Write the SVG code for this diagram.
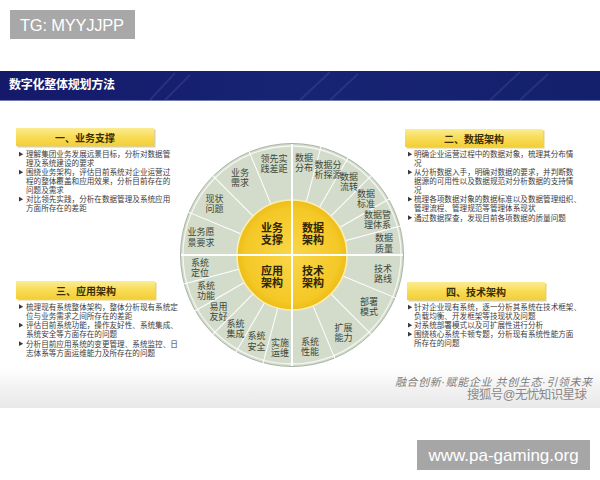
<svg xmlns="http://www.w3.org/2000/svg" xmlns:xlink="http://www.w3.org/1999/xlink" width="600" height="480" viewBox="0 0 600 480">
  <defs>
    <linearGradient id="band" x1="0" y1="0" x2="1" y2="0">
      <stop offset="0" stop-color="#15196a"/>
      <stop offset="0.5" stop-color="#172474"/>
      <stop offset="1" stop-color="#14206b"/>
    </linearGradient>
    <linearGradient id="bar" x1="0" y1="0" x2="0" y2="1">
      <stop offset="0" stop-color="#fcec93"/>
      <stop offset="0.5" stop-color="#f8dc55"/>
      <stop offset="1" stop-color="#f2cf38"/>
    </linearGradient>
    <radialGradient id="core" cx="0.5" cy="0.5" r="0.5">
      <stop offset="0" stop-color="#f9d64a"/>
      <stop offset="0.85" stop-color="#f4c826"/>
      <stop offset="1" stop-color="#eebd17"/>
    </radialGradient>
    <linearGradient id="foot" x1="0" y1="0" x2="0" y2="1">
      <stop offset="0" stop-color="#ffffff"/>
      <stop offset="0.5" stop-color="#f2f2f2"/>
      <stop offset="1" stop-color="#e9e9e9"/>
    </linearGradient>
    <polygon id="bul" points="0,-2.4 4.2,0 0,2.4" fill="#3a3a3a"/>
    <style>
      .cjk { font-family: "Liberation Sans", "Noto Sans CJK SC", sans-serif; }
      .body { font-family: "Liberation Sans", "Noto Sans CJK SC", sans-serif; font-size: 7.6px; fill: #3c3c3c; }
      .head { font-family: "Liberation Sans", "Noto Sans CJK SC", sans-serif; font-size: 10px; font-weight: bold; fill: #3a2d05; text-anchor: middle; }
      .lbl { font-family: "Liberation Sans", "Noto Sans CJK SC", sans-serif; font-size: 9px; fill: #3b4739; text-anchor: middle; }
      .core { font-family: "Liberation Sans", "Noto Sans CJK SC", sans-serif; font-size: 11px; font-weight: bold; fill: #2e2608; text-anchor: middle; }
      .div { stroke: #ffffff; stroke-width: 1; }
      .cross { stroke: #ffffff; stroke-width: 2; }
    </style>
  </defs>

  <rect width="600" height="480" fill="#ffffff"/>

  <!-- watermark top -->
  <g id="tg-badge">
    <rect x="10" y="10" width="125" height="29" fill="#a8a8a8"/>
    <text x="20" y="31" font-family="Liberation Sans, Arial, sans-serif" font-size="16.5" fill="#ffffff" textLength="104">TG: MYYJJPP</text>
  </g>

  <!-- title band -->
  <g id="title-band">
    <rect x="0" y="71" width="600" height="29" fill="url(#band)"/>
    <g stroke="#8a92c0" stroke-opacity="0.16" stroke-width="2">
      <line x1="150" y1="100" x2="175" y2="73"/>
      <line x1="165" y1="100" x2="190" y2="75"/>
      <line x1="300" y1="100" x2="330" y2="72"/>
      <line x1="330" y1="100" x2="358" y2="74"/>
      <line x1="490" y1="100" x2="520" y2="72"/>
      <line x1="520" y1="100" x2="548" y2="74"/>
    </g>
    <line x1="0" y1="100.5" x2="600" y2="100.5" stroke="#6f7ab5" stroke-width="1"/>
    <text x="9" y="89" class="cjk" font-size="12" font-weight="bold" fill="#ffffff" textLength="106">数字化整体规划方法</text>
  </g>

  <!-- footer band -->
  <rect x="0" y="368" width="600" height="40" fill="url(#foot)"/>

  <!-- Section 1 -->
  <g id="sec-business">
    <rect x="17.5" y="129.5" width="138" height="18" fill="#c8b04a" opacity="0.6"/>
    <rect x="16" y="128" width="138" height="18" fill="url(#bar)"/>
    <text x="85" y="141.5" class="head">一、业务支撑</text>
    <use xlink:href="#bul" x="19" y="154.2"/>
    <use xlink:href="#bul" x="19" y="172.2"/>
    <use xlink:href="#bul" x="19" y="199.2"/>
    <text class="body">
      <tspan x="26" y="157">理解集团业务发展远景目标，分析对数据管</tspan>
      <tspan x="26" y="166">理及系统建设的要求</tspan>
      <tspan x="26" y="175">围绕业务架构，评估目前系统对企业运营过</tspan>
      <tspan x="26" y="184">程的整体覆盖和应用效果，分析目前存在的</tspan>
      <tspan x="26" y="193">问题及需求</tspan>
      <tspan x="26" y="202">对比领先实践，分析在数据管理及系统应用</tspan>
      <tspan x="26" y="211">方面所存在的差距</tspan>
    </text>
  </g>

  <!-- Section 2 -->
  <g id="sec-data">
    <rect x="406.5" y="130.5" width="138" height="18" fill="#c8b04a" opacity="0.6"/>
    <rect x="405" y="129" width="138" height="18" fill="url(#bar)"/>
    <text x="474" y="142.5" class="head">二、数据架构</text>
    <use xlink:href="#bul" x="408" y="154.2"/>
    <use xlink:href="#bul" x="408" y="172.2"/>
    <use xlink:href="#bul" x="408" y="199.2"/>
    <use xlink:href="#bul" x="408" y="217.7"/>
    <text class="body">
      <tspan x="414" y="157">明确企业运营过程中的数据对象，梳理其分布情</tspan>
      <tspan x="414" y="166">况</tspan>
      <tspan x="414" y="175">从分析数据入手，明确对数据的要求，并判断数</tspan>
      <tspan x="414" y="184">据源的可用性以及数据规范对分析数据的支持情</tspan>
      <tspan x="414" y="193">况</tspan>
      <tspan x="414" y="202">梳理各项数据对象的数据标准以及数据管理组织、</tspan>
      <tspan x="414" y="211">管理流程、管理规范等管理体系现状</tspan>
      <tspan x="414" y="220.5">通过数据探查，发现目前各项数据的质量问题</tspan>
    </text>
  </g>

  <!-- Section 3 -->
  <g id="sec-application">
    <rect x="17.5" y="282.5" width="139" height="18" fill="#c8b04a" opacity="0.6"/>
    <rect x="16" y="281" width="139" height="18" fill="url(#bar)"/>
    <text x="86" y="294.5" class="head">三、应用架构</text>
    <use xlink:href="#bul" x="19" y="306.7"/>
    <use xlink:href="#bul" x="19" y="325.2"/>
    <use xlink:href="#bul" x="19" y="343.7"/>
    <text class="body">
      <tspan x="26" y="309.5">梳理现有系统整体架构，整体分析现有系统定</tspan>
      <tspan x="26" y="318.5">位与业务需求之间所存在的差距</tspan>
      <tspan x="26" y="328">评估目前系统功能，操作友好性、系统集成、</tspan>
      <tspan x="26" y="337">系统安全等方面存在的问题</tspan>
      <tspan x="26" y="346.5">分析目前应用系统的变更管理、系统监控、日</tspan>
      <tspan x="26" y="355.5">志体系等方面运维能力及所存在的问题</tspan>
    </text>
  </g>

  <!-- Section 4 -->
  <g id="sec-technology">
    <rect x="408.5" y="283.5" width="138" height="18" fill="#c8b04a" opacity="0.6"/>
    <rect x="407" y="282" width="138" height="18" fill="url(#bar)"/>
    <text x="476" y="295.5" class="head">四、技术架构</text>
    <use xlink:href="#bul" x="408" y="307.2"/>
    <use xlink:href="#bul" x="408" y="325.2"/>
    <use xlink:href="#bul" x="408" y="334.2"/>
    <text class="body">
      <tspan x="414" y="310">针对企业现有系统，逐一分析其系统在技术框架、</tspan>
      <tspan x="414" y="319">负载均衡、开发框架等技现状及问题</tspan>
      <tspan x="414" y="328">对系统部署模式以及可扩展性进行分析</tspan>
      <tspan x="414" y="337">围绕核心系统卡顿专题，分析现有系统性能方面</tspan>
      <tspan x="414" y="346">所存在的问题</tspan>
    </text>
  </g>

  <!-- Wheel -->
  <g id="wheel">
    <circle cx="292" cy="255" r="111.5" fill="#d3dbcb" stroke="#aab4a5" stroke-width="1"/>
    <circle cx="292" cy="255" r="109" fill="none" stroke="#f3f6f1" stroke-width="1.3"/>
    <g id="dividers" class="div">
      <line x1="347" y1="255" x2="408" y2="255" transform="rotate(-112.5 292 255)"/>
      <line x1="347" y1="255" x2="408" y2="255" transform="rotate(-135 292 255)"/>
      <line x1="347" y1="255" x2="408" y2="255" transform="rotate(-157.5 292 255)"/>
      <line x1="347" y1="255" x2="408" y2="255" transform="rotate(-75 292 255)"/>
      <line x1="347" y1="255" x2="408" y2="255" transform="rotate(-60 292 255)"/>
      <line x1="347" y1="255" x2="408" y2="255" transform="rotate(-45 292 255)"/>
      <line x1="347" y1="255" x2="408" y2="255" transform="rotate(-30 292 255)"/>
      <line x1="347" y1="255" x2="408" y2="255" transform="rotate(-15 292 255)"/>
      <line x1="347" y1="255" x2="408" y2="255" transform="rotate(-195 292 255)"/>
      <line x1="347" y1="255" x2="408" y2="255" transform="rotate(-210 292 255)"/>
      <line x1="347" y1="255" x2="408" y2="255" transform="rotate(-225 292 255)"/>
      <line x1="347" y1="255" x2="408" y2="255" transform="rotate(-240 292 255)"/>
      <line x1="347" y1="255" x2="408" y2="255" transform="rotate(-255 292 255)"/>
      <line x1="347" y1="255" x2="408" y2="255" transform="rotate(-292.5 292 255)"/>
      <line x1="347" y1="255" x2="408" y2="255" transform="rotate(-315 292 255)"/>
      <line x1="347" y1="255" x2="408" y2="255" transform="rotate(-337.5 292 255)"/>
    </g>
    <circle cx="292" cy="255" r="55" fill="url(#core)" stroke="#fbeeb4" stroke-width="1.6"/>
    <line class="cross" x1="181" y1="255" x2="403" y2="255"/>
    <line class="cross" x1="292" y1="144" x2="292" y2="366"/>

    <g id="core-business"><text class="core"><tspan x="272" y="232">业务</tspan><tspan x="272" y="244.4">支撑</tspan></text></g>
    <g id="core-data"><text class="core"><tspan x="313" y="232">数据</tspan><tspan x="313" y="244.4">架构</tspan></text></g>
    <g id="core-application"><text class="core"><tspan x="272" y="275">应用</tspan><tspan x="272" y="287.4">架构</tspan></text></g>
    <g id="core-technology"><text class="core"><tspan x="313" y="275">技术</tspan><tspan x="313" y="287.4">架构</tspan></text></g>

    <g id="seg-business">
      <text class="lbl"><tspan x="274" y="162.2">领先实</tspan><tspan x="274" y="172.4">践差距</tspan></text>
      <text class="lbl"><tspan x="240" y="176.1">业务</tspan><tspan x="240" y="186.3">需求</tspan></text>
      <text class="lbl"><tspan x="214.5" y="201.7">现状</tspan><tspan x="214.5" y="211.9">问题</tspan></text>
      <text class="lbl"><tspan x="201" y="235.3">业务愿</tspan><tspan x="201" y="245.5">景要求</tspan></text>
    </g>
    <g id="seg-data">
      <text class="lbl"><tspan x="304" y="161.2">数据</tspan><tspan x="304" y="171.4">分布</tspan></text>
      <text class="lbl"><tspan x="328" y="167.5">数据分</tspan><tspan x="328" y="177.7">析探源</tspan></text>
      <text class="lbl"><tspan x="349" y="179.6">数据</tspan><tspan x="349" y="189.8">流转</tspan></text>
      <text class="lbl"><tspan x="366" y="196.8">数据</tspan><tspan x="366" y="207">标准</tspan></text>
      <text class="lbl"><tspan x="377.5" y="217.8">数据管</tspan><tspan x="377.5" y="228">理体系</tspan></text>
      <text class="lbl"><tspan x="384" y="241.3">数据</tspan><tspan x="384" y="251.5">质量</tspan></text>
    </g>
    <g id="seg-application">
      <text class="lbl"><tspan x="200" y="265.5">系统</tspan><tspan x="200" y="275.7">定位</tspan></text>
      <text class="lbl"><tspan x="206" y="289">系统</tspan><tspan x="206" y="299.2">功能</tspan></text>
      <text class="lbl"><tspan x="218.5" y="310">易用</tspan><tspan x="218.5" y="320.2">友好</tspan></text>
      <text class="lbl"><tspan x="235.5" y="327.2">系统</tspan><tspan x="235.5" y="337.4">集成</tspan></text>
      <text class="lbl"><tspan x="256.5" y="339.3">系统</tspan><tspan x="256.5" y="349.5">安全</tspan></text>
      <text class="lbl"><tspan x="280" y="345.6">实施</tspan><tspan x="280" y="355.8">运维</tspan></text>
    </g>
    <g id="seg-technology">
      <text class="lbl"><tspan x="383" y="271.5">技术</tspan><tspan x="383" y="281.7">路线</tspan></text>
      <text class="lbl"><tspan x="369" y="305.1">部署</tspan><tspan x="369" y="315.3">模式</tspan></text>
      <text class="lbl"><tspan x="343.5" y="330.7">扩展</tspan><tspan x="343.5" y="340.9">能力</tspan></text>
      <text class="lbl"><tspan x="310" y="344.6">系统</tspan><tspan x="310" y="354.8">性能</tspan></text>
    </g>
  </g>

  <!-- slogan -->
  <g id="slogan">
    <text x="395" y="386" class="cjk" font-size="11" font-style="italic" fill="#7d7d7d" textLength="197">融合创新·赋能企业  共创生态·引领未来</text>
    <text x="467" y="399" class="cjk" font-size="12.5" fill="#8a8a8a" textLength="120">搜狐号@无忧知识星球</text>
  </g>

  <!-- watermark bottom -->
  <g id="site-badge">
    <rect x="417" y="440" width="173" height="30" fill="#a6a6a6"/>
    <text x="503.5" y="461" text-anchor="middle" font-family="Liberation Sans, Arial, sans-serif" font-size="17" fill="#ffffff">www.pa-gaming.org</text>
  </g>
</svg>
